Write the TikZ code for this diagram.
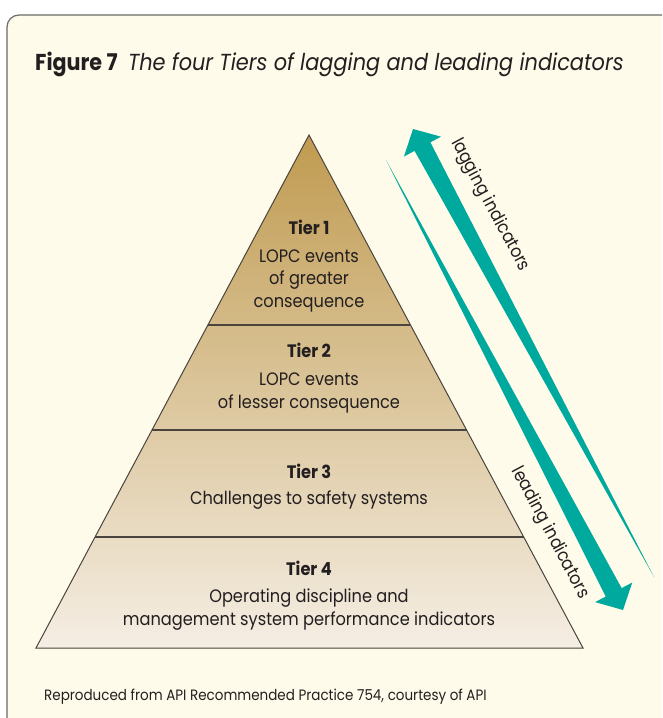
\documentclass[tikz,border=0pt]{standalone}
\usepackage{fontspec}
\setmainfont{Poppins}[FakeStretch=0.9]
\usetikzlibrary{calc}
\definecolor{cream}{HTML}{FEFBEA}
\definecolor{framecol}{HTML}{6A6A66}
\definecolor{arrowteal}{HTML}{00A99D}
\definecolor{tierTop}{HTML}{C09B50}
\definecolor{tierMid}{HTML}{DCC393}
\definecolor{tierBot}{HTML}{F5EEE4}
\definecolor{linecol}{HTML}{4A443E}
\definecolor{textcol}{HTML}{231F20}
\tikzset{
  bodytext/.style={font=\fontsize{18}{22.5}\selectfont, text=textcol, align=center, inner sep=0pt, anchor=base},
  sidetext/.style={font=\fontsize{18}{22}\selectfont, text=textcol, inner sep=0pt, rotate=-61.8},
  tierline/.style={draw=linecol, line width=1.8pt},
  outline/.style={draw=linecol, line width=1pt, line join=miter},
  wedge/.style={fill=arrowteal},
}
\begin{document}
\begin{tikzpicture}[x=1pt,y=-1pt]
\useasboundingbox (0,0) rectangle (662,718);
\clip (0,0) rectangle (662,718);
\fill[white] (0,0) rectangle (662,718);
\draw[framecol, line width=1.2pt, fill=cream, rounded corners=12pt] (7,15) rectangle (720,760);

% title
\node[text=textcol, anchor=base west, inner sep=0pt] (title) at (35,70)
  {\fontsize{23}{26}\selectfont\textbf{Figure 7}\hspace{0.45em}\fontsize{23.2}{26}\selectfont\textit{The four Tiers of lagging and leading indicators}};

% pyramid
\coordinate (apex) at (309,135);
\coordinate (bl) at (36,648);
\coordinate (br) at (583,648);
\shade[top color=tierTop, middle color=tierMid, bottom color=tierBot] (apex) -- (br) -- (bl) -- cycle;
\foreach \f in {0.3704,0.5750,0.7836}{
  \draw[tierline] ($(apex)!\f!(bl)$) -- ($(apex)!\f!(br)$);
}
\draw[outline] (apex) -- (br) -- (bl) -- cycle;

\node[bodytext] (tier1) at (309,307) {\textbf{Tier 1}\\[5.5pt]LOPC events\\of greater\\consequence};
\node[bodytext] (tier2) at (309,408) {\textbf{Tier 2}\\[5.5pt]LOPC events\\of lesser consequence};
\node[bodytext] (tier3) at (309,504) {\textbf{Tier 3}\\[3.5pt]Challenges to safety systems};
\node[bodytext] (tier4) at (309,625) {\textbf{Tier 4}\\[4.5pt]Operating discipline and\\management system performance indicators};

% wedge arrows
\coordinate (lagT) at (654,577);
\coordinate (lagH) at (413,129);
\coordinate (lagB) at ($(lagH)!20pt!(lagT)$);
\fill[wedge] (lagT) -- ($(lagB)!9pt!90:(lagH)$) -- ($(lagB)!21pt!90:(lagH)$) -- (lagH)
  -- ($(lagB)!21pt!-90:(lagH)$) -- ($(lagB)!9pt!-90:(lagH)$) -- cycle;

\coordinate (leadT) at (386,160);
\coordinate (leadH) at (623,610);
\coordinate (leadB) at ($(leadH)!20pt!(leadT)$);
\fill[wedge] (leadT) -- ($(leadB)!9pt!90:(leadH)$) -- ($(leadB)!21pt!90:(leadH)$) -- (leadH)
  -- ($(leadB)!21pt!-90:(leadH)$) -- ($(leadB)!9pt!-90:(leadH)$) -- cycle;

\node[sidetext] (lagging) at (490,205) {lagging indicators};
\node[sidetext] (leading) at (550,533) {leading indicators};

% footer
\node[font=\fontsize{15}{17}\selectfont, text=textcol, anchor=base west, inner sep=0pt] (footer) at (44,700)
  {Reproduced from API Recommended Practice 754, courtesy of API};
\end{tikzpicture}
\end{document}
